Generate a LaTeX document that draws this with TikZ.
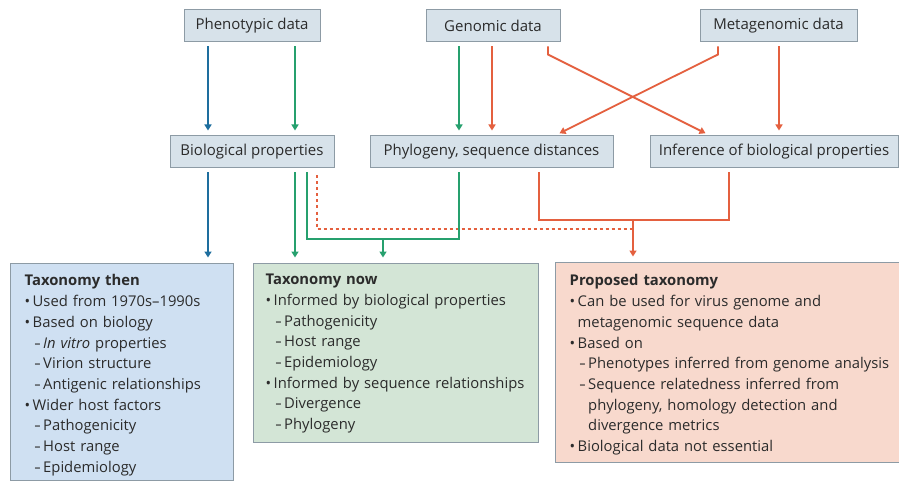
\documentclass[tikz,border=0pt]{standalone}
\usepackage{fontspec}
\setmainfont{Open Sans}
\usepackage{tikz}
\usetikzlibrary{arrows.meta}

\definecolor{boxfill}{HTML}{D7E2EA}
\definecolor{boxline}{HTML}{8D9BA5}
\definecolor{thenfill}{HTML}{CFE0F2}
\definecolor{nowfill}{HTML}{D3E5D6}
\definecolor{propfill}{HTML}{F8D9CD}
\definecolor{arrblue}{HTML}{1E6E9E}
\definecolor{arrgreen}{HTML}{26A06E}
\definecolor{arrred}{HTML}{E4603F}
\definecolor{txt}{HTML}{2B2B2B}

\newcommand{\bul}[1]{\mbox{\makebox[8pt][l]{•}#1}}
\newcommand{\dsh}[1]{\mbox{\hspace*{10pt}\makebox[8.5pt][l]{\scalebox{0.8}[1]{–}}#1}}
\newcommand{\bcont}[1]{\mbox{\hspace*{8pt}#1}}
\newcommand{\dcont}[1]{\mbox{\hspace*{18.5pt}#1}}

\tikzset{
  databox/.style={shape=rectangle,draw=boxline,fill=boxfill,line width=1pt,minimum height=32pt,inner sep=0pt,font=\fontsize{15}{17}\selectfont,text=txt},
  taxbox/.style={shape=rectangle,draw=boxline,line width=1pt,inner sep=0pt},
  taxtext/.style={anchor=north west,align=left,inner sep=0pt,text width=330pt,font=\fontsize{14.8}{20.7}\selectfont,text=txt},
  link/.style={line width=1.8pt,-{Triangle[width=7pt,length=6pt]},shorten >=5pt,shorten <=4pt},
  bluelink/.style={link,draw=arrblue},
  greenlink/.style={link,draw=arrgreen},
  redlink/.style={link,draw=arrred},
  greenline/.style={line width=1.8pt,draw=arrgreen},
  redline/.style={line width=1.8pt,draw=arrred},
  reddash/.style={line width=1.8pt,draw=arrred,dash pattern=on 3pt off 3pt}
}

\begin{document}
\begin{tikzpicture}[x=1pt,y=-1pt]
    \fill[white] (0,0) rectangle (899,481);
    \useasboundingbox (0,0) rectangle (899,481);

    \node[databox,minimum width=136pt] (pheno) at (252,26) {Phenotypic data};
    \node[databox,minimum width=134pt] (geno) at (493,26) {Genomic data};
    \node[databox,minimum width=157pt] (meta) at (778.5,26) {Metagenomic data};

    \node[databox,minimum width=164pt] (bio) at (252,152) {Biological properties};
    \node[databox,minimum width=243pt] (phylo) at (491.5,152) {Phylogeny, sequence distances};
    \node[databox,minimum width=248pt] (infer) at (774,152) {Inference of biological properties};

    \node[taxbox,fill=thenfill,minimum width=223pt,minimum height=217pt] (then) at (121.5,371.5) {};
    \node[taxbox,fill=nowfill,minimum width=285pt,minimum height=179pt] (now) at (395.5,352.5) {};
    \node[taxbox,fill=propfill,minimum width=346pt,minimum height=200pt] (prop) at (728,362) {};

    \node[taxtext] (thentext) at ([xshift=15pt,yshift=-12pt]then.north west) {\textbf{Taxonomy then}\\
      \bul{Used from 1970s–1990s}\\
      \bul{Based on biology}\\
      \dsh{\textit{In vitro} properties}\\
      \dsh{Virion structure}\\
      \dsh{Antigenic relationships}\\
      \bul{Wider host factors}\\
      \dsh{Pathogenicity}\\
      \dsh{Host range}\\
      \dsh{Epidemiology}};
    \node[taxtext] (nowtext) at ([xshift=13pt,yshift=-11.5pt]now.north west) {\textbf{Taxonomy now}\\
      \bul{Informed by biological properties}\\
      \dsh{Pathogenicity}\\
      \dsh{Host range}\\
      \dsh{Epidemiology}\\
      \bul{Informed by sequence relationships}\\
      \dsh{Divergence}\\
      \dsh{Phylogeny}};
    \node[taxtext] (proptext) at ([xshift=15pt,yshift=-13pt]prop.north west) {\textbf{Proposed taxonomy}\\
      \bul{Can be used for virus genome and}\\
      \bcont{metagenomic sequence data}\\
      \bul{Based on}\\
      \dsh{Phenotypes inferred from genome analysis}\\
      \dsh{Sequence relatedness inferred from}\\
      \dcont{phylogeny, homology detection and}\\
      \dcont{divergence metrics}\\
      \bul{Biological data not essential}};

    \coordinate (gjoin) at (383,239);
    \coordinate (rjoin) at (633,220);
    \coordinate (djoin) at (633,229);

    \path ([xshift=-44pt]pheno.south) edge[bluelink] ([xshift=-44pt]bio.north);
    \path ([xshift=43pt]pheno.south) edge[greenlink] ([xshift=43pt]bio.north);
    \path ([xshift=-34pt]geno.south) edge[greenlink] ([xshift=-32.5pt]phylo.north);
    \path ([xshift=-1pt]geno.south) edge[redlink] ([xshift=0.5pt]phylo.north);
    \draw[redlink] ([xshift=55pt]geno.south) -- ++(0,12) -- ([xshift=-64pt]infer.north);
    \draw[redlink] ([xshift=-60.5pt]meta.south) -- ++(0,12) -- ([xshift=63.5pt]phylo.north);
    \path ([xshift=0.5pt]meta.south) edge[redlink] ([xshift=5pt]infer.north);

    \path ([xshift=-44pt]bio.south) edge[bluelink] (then.north -| 208,0);
    \path ([xshift=43pt]bio.south) edge[greenlink] (now.north -| 295,0);
    \draw[reddash] ([xshift=65pt,yshift=-7pt]bio.south) |- (djoin);
    \draw[greenline] ([xshift=55pt,yshift=-4pt]bio.south) |- (gjoin) -| ([xshift=-32.5pt,yshift=-4pt]phylo.south);
    \draw[redline] ([xshift=47.5pt,yshift=-4pt]phylo.south) |- (rjoin) -| ([xshift=-45pt,yshift=-4pt]infer.south);
    \path (gjoin) edge[greenlink,shorten <=0pt] (gjoin |- now.north);
    \path (rjoin) edge[redlink,shorten <=0pt] (rjoin |- prop.north);
\end{tikzpicture}
\end{document}
